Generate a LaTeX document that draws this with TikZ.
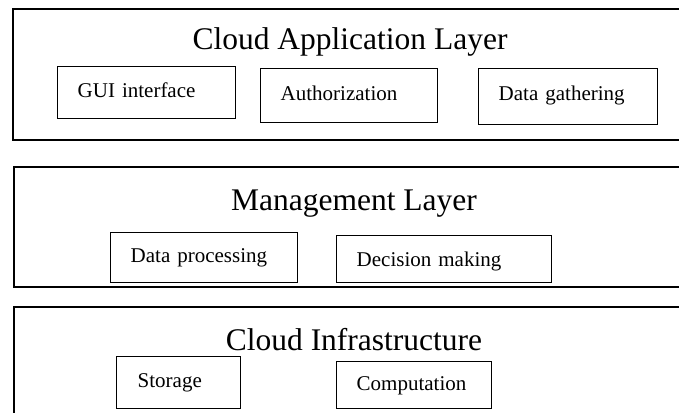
\documentclass[tikz,border=0pt]{standalone}
\usepackage{fontspec}
\setmainfont{Liberation Serif}
\begin{document}
\begin{tikzpicture}[x=1pt,y=-1pt,
  layer/.style={draw=black,line width=1.8pt},
  title/.style={anchor=base,inner sep=0pt,font=\fontsize{31.5}{36}\selectfont},
  item/.style={draw=black,line width=1.4pt,anchor=north west,align=left,
    inner xsep=20pt,inner ysep=0pt,font=\fontsize{21}{25}\selectfont,
    text height=14pt,text depth=4pt},
]
\clip (0,0) rectangle (679,412);
\fill[white] (0,0) rectangle (679,412);
% layers
\draw[layer] (13,9) rectangle (700,140);
\draw[layer] (14,167) rectangle (700,287);
\draw[layer] (14,307) rectangle (700,440);
% titles
\node[title] (t1) at (350,49) {Cloud Application Layer};
\node[title] (t2) at (354,210) {Management Layer};
\node[title] (t3) at (354,350) {Cloud Infrastructure};
% application layer items
\node[item,text width=138pt,minimum height=52pt] (gui) at (57,66) {GUI interface};
\node[item,text width=137pt,minimum height=54pt] (auth) at (260,68) {Authorization};
\node[item,text width=139pt,minimum height=56pt,text depth=6pt] (gather) at (478,68) {Data gathering};
% management layer items
\node[item,text width=147pt,minimum height=50pt] (proc) at (110,232) {Data processing};
\node[item,text width=175pt,minimum height=47pt,text depth=-2pt] (dec) at (336,235) {Decision making};
% infrastructure items
\node[item,text width=82pt,minimum height=52pt,inner xsep=21pt] (stor) at (116,356) {Storage};
\node[item,text width=115pt,minimum height=47pt] (comp) at (336,361) {Computation};
\end{tikzpicture}
\end{document}
